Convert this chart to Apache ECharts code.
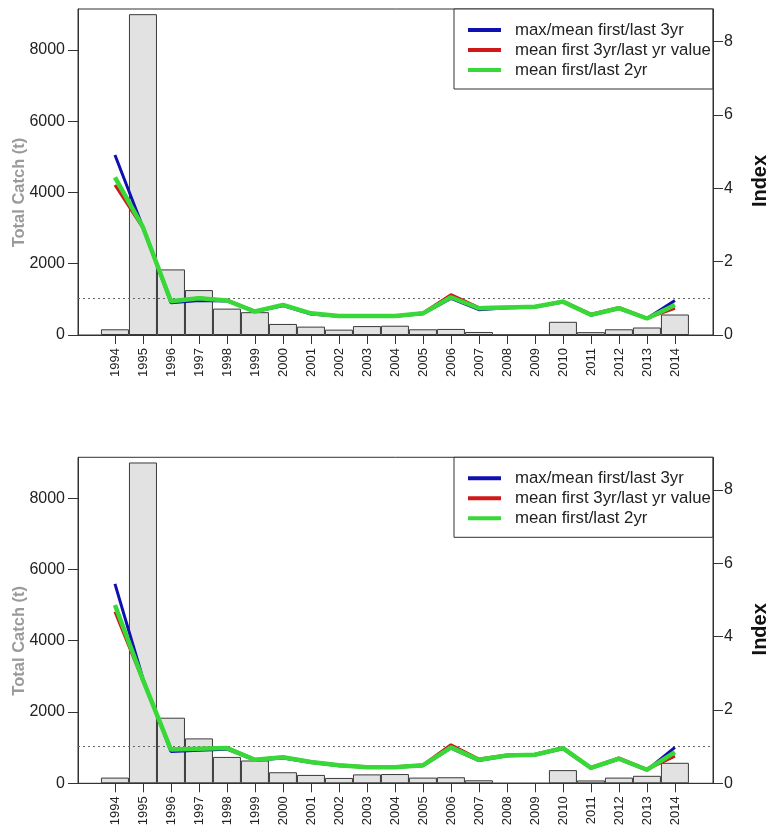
<!DOCTYPE html>
<html>
<head>
<meta charset="utf-8">
<script src="https://cdn.jsdelivr.net/npm/echarts@6/dist/echarts.min.js"></script>
<style>
html,body{margin:0;padding:0;background:#fff;}
#chart{width:769px;height:832px;}
</style>
</head>
<body>
<div id="chart"></div>
<script>
// ---------- data ----------
const years = [1994,1995,1996,1997,1998,1999,2000,2001,2002,2003,2004,2005,2006,2007,2008,2009,2010,2011,2012,2013,2014];
const catchT = [160,9000,1840,1260,740,640,310,235,150,250,260,160,170,85,0,0,370,80,160,210,575];

const blueTop  = [4.91,2.93,0.88,0.94,0.93,0.64,0.80,0.57,0.51,0.51,0.51,0.58,1.00,0.69,0.74,0.76,0.90,0.54,0.72,0.45,0.94];
const redTop   = [4.09,2.92,0.92,1.01,0.95,0.65,0.82,0.58,0.52,0.52,0.52,0.60,1.10,0.75,0.76,0.77,0.92,0.57,0.75,0.46,0.73];
const greenTop = [4.30,2.94,0.92,1.00,0.94,0.64,0.82,0.59,0.52,0.52,0.52,0.59,1.03,0.73,0.75,0.77,0.91,0.55,0.73,0.45,0.82];

const blueBot  = [5.44,2.85,0.87,0.90,0.93,0.63,0.69,0.57,0.48,0.44,0.44,0.48,0.96,0.62,0.75,0.77,0.94,0.41,0.66,0.36,0.98];
const redBot   = [4.68,2.80,0.92,0.95,0.97,0.65,0.72,0.59,0.50,0.45,0.45,0.50,1.05,0.66,0.77,0.79,0.97,0.43,0.69,0.38,0.74];
const greenBot = [4.86,2.82,0.92,0.94,0.96,0.64,0.71,0.58,0.49,0.44,0.44,0.49,0.98,0.64,0.76,0.78,0.96,0.42,0.67,0.37,0.85];

const seriesNames = ['max/mean first/last 3yr','mean first 3yr/last yr value','mean first/last 2yr'];
const catchTicks = [0,2000,4000,6000,8000];
const indexTicks = [0,2,4,6,8];
const refLevel = 1;
const leftTitle = 'Total Catch (t)';
const rightTitle = 'Index';

// ---------- layout / style ----------
const FONT = "'Liberation Sans', Arial, sans-serif";
const colors = ['#1010b0','#d01818','#38d838'];
const widths = [3,3,4.5];
const panels = [
  {top: 9,     lines: [blueTop, redTop, greenTop]},
  {top: 457.3, lines: [blueBot, redBot, greenBot]}
];
const gridLeft = 78, gridW = 635, gridH = 326;
const xMin = 1992.68, xMax = 2015.36;
const yLeftMax = 9145, yRightMax = 8.89;

const option = {
  animation: false,
  backgroundColor: '#fff',
  grid: [], xAxis: [], yAxis: [], series: [], legend: [], graphic: []
};

panels.forEach((p, i) => {
  option.grid.push({
    left: gridLeft, top: p.top, width: gridW, height: gridH,
    show: true, borderColor: '#333', borderWidth: 1, backgroundColor: 'transparent'
  });
  option.xAxis.push({
    type: 'value', gridIndex: i, min: xMin, max: xMax, position: 'bottom',
    axisLine: {show: true, onZero: false, lineStyle: {color: '#333', width: 1}},
    axisTick: {show: true, inside: false, length: 9, lineStyle: {color: '#333'}, customValues: years},
    axisLabel: {show: true, rotate: 90, margin: 13, fontSize: 13, color: '#222', fontFamily: FONT,
      customValues: years, formatter: v => String(v)},
    splitLine: {show: false}
  });
  option.yAxis.push({
    type: 'value', gridIndex: i, min: 0, max: yLeftMax, position: 'left',
    axisLine: {show: true, lineStyle: {color: '#333'}},
    axisTick: {show: true, inside: false, length: 10, lineStyle: {color: '#333'}, customValues: catchTicks},
    axisLabel: {show: true, margin: 13, fontSize: 16, color: '#222', fontFamily: FONT,
      customValues: catchTicks, formatter: v => String(v)},
    splitLine: {show: false}
  });
  option.yAxis.push({
    type: 'value', gridIndex: i, min: 0, max: yRightMax, position: 'right',
    axisLine: {show: true, lineStyle: {color: '#333'}},
    axisTick: {show: true, inside: false, length: 10, lineStyle: {color: '#333'}, customValues: indexTicks},
    axisLabel: {show: true, margin: 11, fontSize: 16, color: '#222', fontFamily: FONT,
      customValues: indexTicks, formatter: v => String(v)},
    splitLine: {show: false}
  });
  // bars
  option.series.push({
    type: 'bar', xAxisIndex: i, yAxisIndex: 2*i, barWidth: '100%',
    data: years.map((y, k) => [y, catchT[k]]),
    itemStyle: {color: '#e2e2e2', borderColor: '#3a3a3a', borderWidth: 1},
    silent: true, z: 1
  });
  // index lines
  p.lines.forEach((arr, s) => {
    const ser = {
      type: 'line', name: seriesNames[s], xAxisIndex: i, yAxisIndex: 2*i+1,
      data: years.map((y, k) => [y, arr[k]]),
      showSymbol: false, symbol: 'none',
      lineStyle: {color: colors[s], width: widths[s]},
      itemStyle: {color: colors[s]},
      z: 3 + s, silent: true
    };
    if (s === 2) {
      ser.markLine = {
        silent: true, symbol: 'none', label: {show: false},
        lineStyle: {color: '#666', type: [2, 3], width: 1},
        data: [{yAxis: refLevel}], z: 2
      };
    }
    option.series.push(ser);
  });
  option.legend.push({
    orient: 'vertical', left: 454, top: p.top,
    padding: [11, 2, 9, 14], itemWidth: 33, itemHeight: 4, itemGap: 0,
    icon: 'rect', selectedMode: false,
    backgroundColor: '#fff', borderColor: '#333', borderWidth: 1, borderRadius: 0,
    textStyle: {fontSize: 16.8, lineHeight: 20, color: '#222', fontFamily: FONT, padding: [0,0,0,9]},
    data: seriesNames, z: 10
  });
  option.graphic.push({
    type: 'text', x: 19, y: p.top + 183.5, rotation: Math.PI/2,
    style: {text: leftTitle, fill: '#9a9a9a', font: "bold 16.5px 'Liberation Sans', Arial, sans-serif",
      align: 'center', verticalAlign: 'middle'}
  });
  option.graphic.push({
    type: 'text', x: 760, y: p.top + 172, rotation: Math.PI/2,
    style: {text: rightTitle, fill: '#111', font: "bold 20px 'Liberation Sans', Arial, sans-serif",
      align: 'center', verticalAlign: 'middle'}
  });
});

const chart = echarts.init(document.getElementById('chart'), null, {renderer: 'canvas'});
chart.setOption(option);
</script>
</body>
</html>
